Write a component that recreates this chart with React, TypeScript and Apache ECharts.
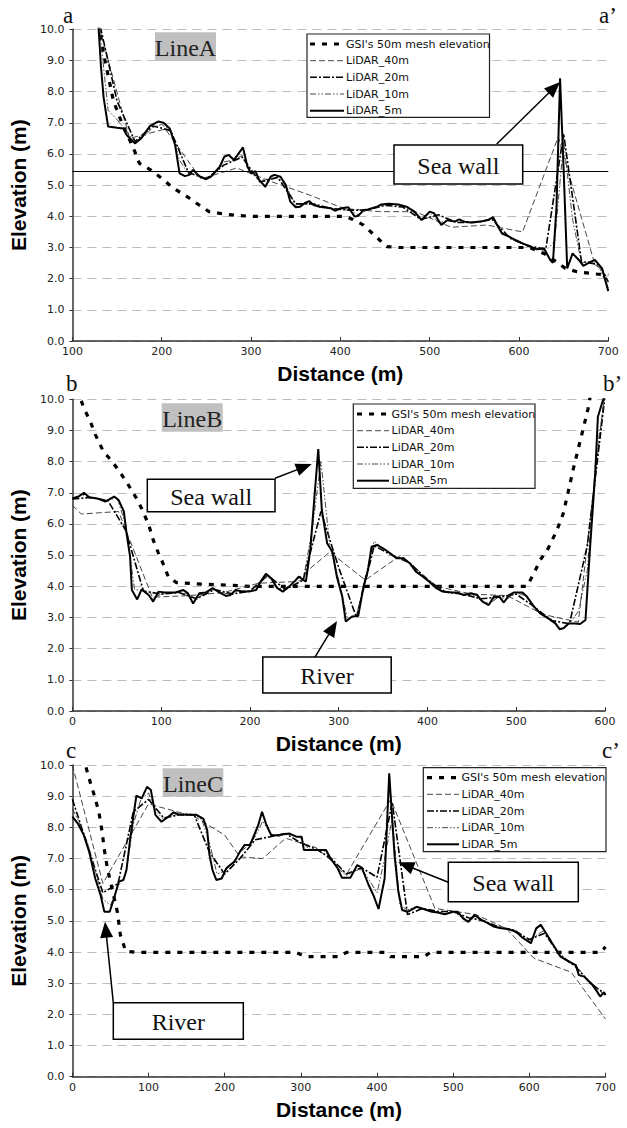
import React, { useEffect, useRef } from 'react';
import * as echarts from 'echarts';

// ---------- Data (distance m, elevation m) ----------
const SERIES_NAMES = ["GSI's 50m mesh elevation", 'LiDAR_40m', 'LiDAR_20m', 'LiDAR_10m', 'LiDAR_5m'];
const Y_TICKS_MAX = 10;

// Line A
const A_GSI = [[129,10.2],[135,9.2],[146,7.7],[154,7.1],[160,6.7],[165,6.4],[170,6.07],[175,5.7],[187,5.5],[200,5.22],[213,4.9],[226,4.68],[239,4.42],[253,4.15],[268,4.08],[283,4.03],[300,4.0],[405,4.0],[414,3.9],[426,3.72],[439,3.37],[452,3.03],[465,3.0],[612,3.0],[620,2.9],[628,2.81],[639,2.6],[652,2.33],[665,2.22],[687,2.15],[700,2.12]];
const A_L40 = [[125,10.6],[164,6.5],[204,6.8],[244,5.2],[284,5.55],[324,5.1],[364,4.7],[404,4.25],[444,4.15],[484,4.15],[524,3.65],[564,3.72],[604,3.5],[644,6.55],[684,2.55],[700,2.0]];
const A_L20 = [[128,10.5],[150,7.7],[170,6.4],[190,6.9],[210,6.75],[230,5.4],[250,5.2],[270,5.65],[290,5.9],[310,5.1],[330,5.25],[350,4.4],[370,4.4],[390,4.25],[410,4.2],[430,4.2],[450,4.35],[470,4.3],[490,3.9],[510,4.05],[530,3.8],[550,3.8],[570,3.9],[590,3.3],[610,3.05],[630,2.95],[650,6.65],[670,2.55],[690,2.45],[700,1.9]];
const A_L10 = [[129,10.4],[140,7.4],[150,7.1],[160,6.75],[170,6.4],[180,6.55],[190,6.85],[200,6.95],[210,6.75],[220,5.8],[230,5.35],[240,5.35],[250,5.2],[260,5.4],[270,5.75],[280,5.8],[290,5.95],[300,5.4],[310,5.15],[320,5.2],[330,5.25],[340,4.95],[350,4.35],[360,4.4],[370,4.4],[380,4.3],[390,4.25],[400,4.22],[410,4.2],[420,4.05],[430,4.2],[440,4.3],[450,4.38],[460,4.38],[470,4.33],[480,4.2],[490,3.9],[500,4.1],[510,3.8],[520,3.85],[530,3.85],[540,3.82],[550,3.8],[560,3.85],[570,3.95],[580,3.5],[590,3.3],[600,3.15],[610,3.05],[620,2.95],[630,2.9],[640,3.2],[650,6.4],[660,3.9],[670,2.5],[680,2.55],[690,2.35],[700,1.7]];
const A_L5 = [[129,10.2],[132,8.8],[135,7.8],[140,6.88],[150,6.84],[157,6.82],[161,6.6],[170,6.34],[177,6.5],[187,6.9],[196,7.04],[202,7.0],[209,6.82],[215,6.29],[220,5.38],[226,5.29],[231,5.33],[235,5.49],[242,5.29],[249,5.19],[255,5.27],[265,5.59],[270,5.91],[275,5.97],[281,5.81],[291,6.21],[296,5.59],[300,5.38],[305,5.45],[309,5.17],[316,4.95],[322,5.27],[326,5.33],[333,5.27],[339,5.0],[344,4.47],[350,4.29],[355,4.31],[360,4.42],[365,4.49],[370,4.36],[376,4.31],[383,4.28],[389,4.26],[394,4.18],[401,4.26],[409,4.29],[416,3.99],[420,4.02],[426,4.2],[431,4.22],[441,4.31],[446,4.38],[454,4.4],[465,4.38],[474,4.31],[483,4.15],[491,3.88],[500,4.15],[505,4.1],[513,3.72],[520,3.88],[528,3.83],[533,3.9],[539,3.83],[546,3.8],[557,3.83],[565,3.88],[571,3.97],[576,3.7],[581,3.45],[589,3.35],[596,3.24],[604,3.13],[613,3.03],[620,2.94],[628,2.97],[635,2.6],[638,2.51],[642,4.31],[646,8.43],[650,5.49],[654,2.33],[660,2.81],[667,2.6],[672,2.41],[678,2.51],[685,2.6],[693,2.33],[700,1.6]];
const A_SEAWALL_LEVEL = 5.46;

// Line B
const B_GSI = [[10,9.95],[13,9.71],[20,9.3],[26,8.86],[35,8.32],[45,8.0],[55,7.6],[62,7.3],[71,6.88],[78,6.5],[86,5.97],[91,5.49],[97,5.06],[102,4.74],[108,4.31],[117,4.12],[140,4.08],[175,4.04],[200,4.0],[512,4.0],[520,4.42],[527,4.84],[536,5.22],[546,5.81],[553,6.34],[559,7.09],[564,7.73],[570,8.43],[576,9.12],[581,9.71],[584,10.2]];
const B_L40 = [[0,6.6],[10,6.32],[52,6.4],[90,3.65],[130,3.7],[170,3.8],[210,4.1],[250,4.15],[290,5.1],[330,4.2],[370,5.0],[410,4.0],[450,3.75],[490,3.7],[530,3.1],[570,2.85],[600,10.3]];
const B_L20 = [[0,6.8],[20,6.85],[40,6.75],[60,5.8],[80,3.85],[100,3.75],[120,3.8],[140,3.6],[160,3.9],[180,3.75],[200,3.85],[220,4.35],[240,3.9],[260,4.2],[280,6.4],[300,4.6],[320,3.0],[340,5.3],[360,5.0],[380,4.75],[400,4.2],[420,3.82],[440,3.75],[460,3.6],[480,3.65],[500,3.75],[520,3.35],[540,2.9],[560,2.8],[580,5.3],[600,10.1]];
const B_L10 = [[0,6.8],[10,6.95],[20,6.85],[30,6.8],[40,6.75],[50,6.85],[60,6.0],[70,3.9],[80,3.85],[90,3.6],[100,3.75],[110,3.8],[120,3.8],[130,3.75],[140,3.6],[150,3.8],[160,3.9],[170,3.75],[180,3.8],[190,3.85],[200,3.85],[210,4.05],[220,4.35],[230,3.95],[240,3.9],[250,4.15],[260,4.2],[270,5.8],[280,8.0],[290,5.3],[300,4.2],[310,2.95],[320,3.05],[330,4.3],[340,5.45],[350,5.2],[360,5.0],[370,4.9],[380,4.75],[390,4.4],[400,4.2],[410,3.95],[420,3.82],[430,3.8],[440,3.72],[450,3.75],[460,3.55],[470,3.45],[480,3.65],[490,3.6],[500,3.8],[510,3.7],[520,3.35],[530,3.1],[540,2.95],[550,2.65],[560,2.8],[570,3.2],[580,4.5],[590,8.2],[600,10.1]];
const B_L5 = [[0,6.82],[7,6.88],[13,7.0],[19,6.86],[28,6.82],[37,6.72],[47,6.88],[52,6.77],[58,6.4],[61,5.7],[65,4.95],[67,3.88],[73,3.58],[78,3.9],[86,3.72],[91,3.51],[97,3.83],[104,3.8],[116,3.8],[125,3.88],[130,3.78],[136,3.45],[143,3.78],[150,3.8],[158,3.94],[166,3.8],[173,3.69],[178,3.72],[184,3.88],[192,3.83],[199,3.83],[207,3.88],[212,4.15],[218,4.4],[224,4.26],[231,3.94],[237,3.83],[244,3.99],[250,4.15],[255,4.31],[263,4.15],[268,5.17],[273,6.98],[277,8.4],[281,6.45],[287,5.38],[293,5.1],[298,4.3],[304,3.67],[308,2.87],[315,3.03],[322,3.05],[328,3.99],[333,4.52],[337,5.27],[343,5.33],[350,5.22],[358,5.06],[365,4.9],[373,4.9],[380,4.74],[387,4.47],[395,4.31],[402,4.15],[410,3.94],[417,3.83],[427,3.8],[434,3.8],[441,3.72],[449,3.78],[456,3.72],[462,3.51],[469,3.4],[475,3.67],[481,3.67],[486,3.48],[492,3.72],[497,3.8],[507,3.8],[512,3.67],[520,3.35],[527,3.13],[536,2.97],[544,2.81],[549,2.62],[553,2.65],[559,2.81],[566,2.81],[572,2.79],[578,2.92],[583,5.17],[589,7.63],[592,9.44],[598,10.0],[600,10.2]];

// Line C
const C_GSI = [[15,10.3],[17,10.0],[24,9.4],[30,8.93],[35,8.45],[39,7.86],[42,7.27],[46,6.68],[52,6.04],[59,5.29],[63,4.55],[70,4.03],[83,3.99],[293,3.99],[300,3.92],[309,3.85],[350,3.85],[360,3.99],[410,3.99],[418,3.85],[462,3.85],[470,3.99],[694,3.99],[700,4.17]];
const C_L40 = [[0,10.0],[40,6.2],[100,8.75],[160,8.35],[200,7.75],[220,7.05],[250,7.0],[280,7.65],[320,7.35],[360,6.5],[418,8.9],[476,5.4],[530,5.2],[570,4.75],[606,3.8],[655,3.35],[700,1.85]];
const C_L20 = [[0,8.9],[20,7.4],[40,5.9],[60,6.2],[80,8.5],[100,8.9],[120,8.3],[140,8.4],[160,8.4],[180,7.2],[200,6.5],[220,7.0],[240,7.6],[260,7.7],[280,7.8],[300,7.5],[320,7.3],[340,7.0],[360,6.5],[380,6.7],[400,6.4],[420,8.8],[440,5.2],[460,5.4],[480,5.3],[500,5.3],[520,5.1],[540,5.0],[560,4.8],[580,4.7],[600,4.4],[620,4.6],[640,3.9],[660,3.55],[680,3.0],[700,2.65]];
const C_L10 = [[0,8.6],[10,8.1],[20,7.5],[30,6.6],[40,5.7],[50,5.5],[60,6.1],[70,6.5],[80,8.1],[90,8.9],[100,9.1],[110,8.5],[120,8.25],[130,8.4],[140,8.4],[150,8.45],[160,8.4],[170,8.25],[180,7.5],[190,6.5],[200,6.6],[210,6.85],[220,7.2],[230,7.4],[240,7.7],[250,8.2],[260,7.8],[270,7.7],[280,7.8],[290,7.75],[300,7.65],[310,7.3],[320,7.3],[330,7.25],[340,7.0],[350,6.65],[360,6.45],[370,6.6],[380,6.65],[390,6.3],[400,5.9],[410,7.0],[420,8.3],[430,5.5],[440,5.35],[450,5.45],[460,5.4],[470,5.3],[480,5.28],[490,5.22],[500,5.28],[510,5.15],[520,5.0],[530,5.15],[540,5.0],[550,4.85],[560,4.78],[570,4.75],[580,4.65],[590,4.5],[600,4.35],[610,4.55],[620,4.7],[630,4.3],[640,3.95],[650,3.75],[660,3.6],[670,3.3],[680,3.05],[690,2.8],[700,2.6]];
const C_L5 = [[0,8.34],[7,8.13],[15,7.75],[22,7.22],[30,6.36],[37,5.83],[42,5.29],[49,5.29],[54,5.67],[61,6.26],[67,6.31],[71,6.63],[76,7.65],[84,9.02],[91,8.93],[98,9.3],[103,9.2],[109,8.4],[117,8.18],[126,8.34],[133,8.48],[139,8.42],[150,8.4],[163,8.4],[172,8.27],[177,7.91],[180,7.11],[184,6.63],[189,6.31],[196,6.36],[202,6.68],[207,6.79],[213,6.9],[220,7.22],[226,7.43],[233,7.43],[237,7.65],[244,8.07],[249,8.5],[254,8.13],[261,7.75],[270,7.75],[277,7.78],[285,7.8],[294,7.7],[301,7.7],[304,7.27],[320,7.27],[333,7.27],[339,7.0],[348,6.7],[354,6.38],[365,6.38],[374,6.79],[380,6.71],[389,6.15],[396,5.78],[402,5.38],[410,6.36],[416,9.73],[423,7.11],[428,5.94],[433,5.35],[440,5.29],[452,5.45],[461,5.38],[472,5.29],[480,5.27],[489,5.21],[500,5.29],[506,5.29],[513,5.08],[520,4.97],[528,5.19],[537,5.03],[546,4.92],[554,4.81],[563,4.76],[572,4.74],[583,4.65],[591,4.46],[602,4.28],[609,4.76],[615,4.87],[622,4.6],[630,4.28],[641,3.85],[652,3.69],[661,3.58],[665,3.26],[672,3.21],[683,2.94],[689,2.73],[693,2.57],[698,2.71],[700,2.62]];

// ---------- Styles ----------
const STYLES = [
  { width: 3.2, type: [5, 7], color: '#000' },
  { width: 0.9, type: [6, 3], color: '#333' },
  { width: 1.6, type: [7, 2, 2, 2], color: '#000' },
  { width: 0.9, type: [6, 2, 1.5, 2, 1.5, 2], color: '#333' },
  { width: 2, type: 'solid', color: '#000' },
];
const SANS = '"DejaVu Sans", sans-serif';
const BOLD = '"Liberation Sans", Arial, sans-serif';
const SERIF = '"Liberation Serif", "Times New Roman", serif';

const PANELS = [
  { grid: { left: 68.5, top: 29.3, width: 539.8, height: 311.7 }, xmin: 100, xmax: 700, data: [A_GSI, A_L40, A_L20, A_L10, A_L5] },
  { grid: { left: 68.3, top: 399.3, width: 536.7, height: 311.7 }, xmin: 0, xmax: 600, data: [B_GSI, B_L40, B_L20, B_L10, B_L5] },
  { grid: { left: 68.3, top: 765, width: 537.2, height: 311.7 }, xmin: 0, xmax: 700, data: [C_GSI, C_L40, C_L20, C_L10, C_L5] },
];

function arrow(x1: number, y1: number, x2: number, y2: number) {
  const dx = x2 - x1, dy = y2 - y1, L = Math.hypot(dx, dy);
  const ux = dx / L, uy = dy / L, hl = 16, hw = 6.5;
  const bx = x2 - ux * hl, by = y2 - uy * hl;
  return [
    { type: 'line', z: 100, shape: { x1, y1, x2: bx + ux * 2, y2: by + uy * 2 }, style: { stroke: '#000', lineWidth: 1.5 } },
    { type: 'polygon', z: 100, shape: { points: [[x2, y2], [bx - uy * hw, by + ux * hw], [bx + uy * hw, by - ux * hw]] }, style: { fill: '#000' } },
  ];
}

function labelBox(x: number, y: number, w: number, h: number, text: string) {
  return [
    { type: 'rect', z: 100, shape: { x, y, width: w, height: h }, style: { fill: '#fff', stroke: '#000', lineWidth: 1.5 } },
    { type: 'text', z: 101, style: { text, x: x + w / 2, y: y + h / 2 + 1, fontSize: 24, fontFamily: SERIF, fill: '#111', align: 'center', verticalAlign: 'middle' } },
  ];
}

function lineTag(x: number, y: number, w: number, h: number, text: string) {
  return [
    { type: 'rect', z: 100, shape: { x, y, width: w, height: h }, style: { fill: '#c0c0c0' } },
    { type: 'text', z: 101, style: { text, x: x + w / 2, y: y + h / 2 + 1, fontSize: 24, fontFamily: SERIF, fill: '#222', align: 'center', verticalAlign: 'middle' } },
  ];
}

function legendBox(x: number, y: number, w: number, h: number, rows: number[], sx1: number, sx2: number, tx: number) {
  const els: any[] = [{ type: 'rect', z: 100, shape: { x, y, width: w, height: h }, style: { fill: '#fff', stroke: '#222', lineWidth: 1.2 } }];
  SERIES_NAMES.forEach((name, i) => {
    const s = STYLES[i];
    els.push({ type: 'line', z: 101, shape: { x1: sx1, y1: rows[i], x2: sx2, y2: rows[i] }, style: { stroke: s.color, lineWidth: s.width, lineDash: s.type === 'solid' ? null : s.type } });
    els.push({ type: 'text', z: 101, style: { text: name, x: tx, y: rows[i], fontSize: 11, fontFamily: SANS, fill: '#111', align: 'left', verticalAlign: 'middle' } });
  });
  return els;
}

function letter(x: number, y: number, text: string) {
  return { type: 'text', z: 100, style: { text, x, y, fontSize: 23, fontFamily: SERIF, fill: '#111', align: 'left', verticalAlign: 'bottom' } };
}

export default function App() {
  const ref = useRef<HTMLDivElement>(null);
  useEffect(() => {
    document.body.style.margin = '0';
    const chart = echarts.init(ref.current!, null, { renderer: 'svg' });
    const grid = PANELS.map((p) => ({ ...p.grid }));
    const xAxis = PANELS.map((p, i) => ({
      gridIndex: i, type: 'value', min: p.xmin, max: p.xmax, interval: 100,
      axisLine: { show: true, onZero: false, lineStyle: { color: '#333', width: 1.5 } },
      axisTick: { show: true, inside: true, length: 4, lineStyle: { color: '#333' } },
      axisLabel: { fontSize: 11, fontFamily: SANS, color: '#222', margin: 5 },
      splitLine: { show: false },
      name: 'Distance (m)', nameLocation: 'middle', nameGap: 22,
      nameTextStyle: { fontSize: 21, fontWeight: 'bold', fontFamily: BOLD, color: '#000' },
    }));
    const yAxis = PANELS.map((p, i) => ({
      gridIndex: i, type: 'value', min: 0, max: Y_TICKS_MAX, interval: 1,
      axisLine: { show: true, onZero: false, lineStyle: { color: '#333', width: 1.5 } },
      axisTick: { show: true, length: 3, lineStyle: { color: '#333' } },
      axisLabel: { fontSize: 11, fontFamily: SANS, color: '#222', margin: 8, formatter: (v: number) => v.toFixed(1) },
      splitLine: { show: true, lineStyle: { color: '#bdbdbd', width: 1, type: [9, 6] } },
      name: 'Elevation (m)', nameLocation: 'middle', nameGap: 31, nameRotate: 90,
      nameTextStyle: { fontSize: 21, fontWeight: 'bold', fontFamily: BOLD, color: '#000' },
    }));
    const series: any[] = [];
    PANELS.forEach((p, pi) => {
      p.data.forEach((d, si) => {
        const s = STYLES[si];
        const ser: any = {
          name: SERIES_NAMES[si] + ' ' + pi, type: 'line', xAxisIndex: pi, yAxisIndex: pi, data: d,
          symbol: 'none', showSymbol: false, clip: true, silent: true,
          lineStyle: { color: s.color, width: s.width, type: s.type },
        };
        if (pi === 0 && si === 4) {
          ser.markLine = {
            silent: true, symbol: ['none', 'none'], label: { show: false },
            lineStyle: { color: '#000', width: 1, type: 'solid' },
            data: [{ yAxis: A_SEAWALL_LEVEL }],
          };
        }
        series.push(ser);
      });
    });
    const graphic: any[] = [
      letter(63, 27, 'a'), letter(599, 27, 'a\u2019'),
      letter(66, 395, 'b'), letter(603, 395, 'b\u2019'),
      letter(66, 762, 'c'), letter(602, 762, 'c\u2019'),
      ...lineTag(155, 32.3, 61, 28.7, 'LineA'),
      ...lineTag(161.7, 403.3, 61, 28.4, 'LineB'),
      ...lineTag(162.7, 768.3, 60.6, 28.4, 'LineC'),
      ...legendBox(307, 34, 182.5, 83.3, [44, 60.7, 77.3, 94, 110.7], 310, 344, 346),
      ...legendBox(353.3, 404, 181.7, 84.3, [414, 430.7, 447.3, 464, 480.7], 357, 389, 391.5),
      ...legendBox(423.3, 767.7, 182.7, 84, [777.7, 794.3, 811, 827.7, 844.3], 427, 459, 461.5),
      ...arrow(496.7, 144, 560, 82),
      ...labelBox(394, 145, 128.7, 39, 'Sea wall'),
      ...arrow(275, 478.3, 311.7, 464),
      ...labelBox(147.3, 479.3, 127.7, 32.4, 'Sea wall'),
      ...arrow(314.8, 657.3, 337, 621),
      ...labelBox(262.8, 657, 128.4, 36, 'River'),
      ...arrow(113.3, 1002.7, 105, 921.7),
      ...labelBox(113.3, 1002.7, 130, 36.6, 'River'),
      ...arrow(448.3, 882.3, 398.3, 862.3),
      ...labelBox(448.3, 862.3, 130, 39.4, 'Sea wall'),
    ];
    chart.setOption({
      animation: false,
      backgroundColor: '#fff',
      grid, xAxis, yAxis, series, graphic,
    });
    return () => chart.dispose();
  }, []);
  return <div ref={ref} style={{ width: 627, height: 1128 }} />;
}
